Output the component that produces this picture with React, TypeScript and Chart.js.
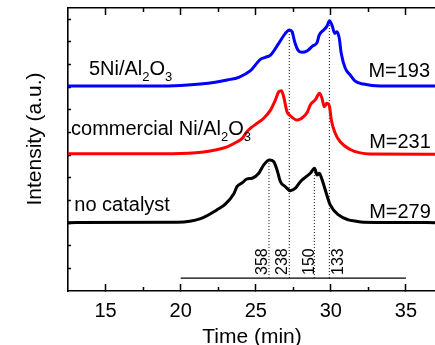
import { useEffect, useRef } from 'react';
import { Chart, registerables } from 'chart.js';

Chart.register(...registerables);

// ---- data ----
const blueTime = [12.5, 18.5, 20.0, 21.3, 22.3, 23.1, 23.87, 24.65, 25.31, 25.64, 25.98, 26.53, 26.97, 27.24, 27.42, 27.59, 27.81, 28.08, 28.41, 28.78, 29.08, 29.23, 29.52, 29.74, 29.91, 30.11, 30.25, 30.41, 30.56, 30.69, 30.96, 31.29, 31.62, 32.17, 33.28, 37];
const blueSignal = [9.05, 9.05, 9.08, 9.14, 9.22, 9.32, 9.44, 9.73, 10.23, 10.32, 10.42, 10.94, 11.38, 11.53, 11.45, 11.01, 10.64, 10.54, 10.6, 10.82, 10.97, 11.31, 11.53, 11.7, 11.94, 11.67, 11.38, 11.45, 11.16, 10.5, 9.84, 9.54, 9.27, 9.14, 9.05, 9.05];

const redTime = [12.5, 19.5, 20.5, 21.4, 22.3, 23.1, 23.76, 24.1, 24.43, 24.65, 25.09, 25.53, 25.98, 26.31, 26.53, 26.71, 26.86, 27.08, 27.3, 27.75, 28.19, 28.45, 28.63, 28.96, 29.25, 29.41, 29.56, 29.74, 29.91, 30.03, 30.29, 30.62, 31.29, 31.95, 32.6, 37];
const redSignal = [6.06, 6.06, 6.08, 6.13, 6.23, 6.37, 6.59, 6.74, 7.05, 7.19, 7.41, 7.63, 7.99, 8.44, 8.8, 8.85, 8.58, 7.92, 7.74, 7.55, 7.7, 7.92, 8.22, 8.44, 8.73, 8.51, 8.14, 8.29, 8.14, 7.55, 6.97, 6.59, 6.25, 6.1, 6.05, 6.04];

const blackTime = [12.5, 19.78, 21.33, 22.5, 22.99, 23.54, 23.76, 24.1, 24.43, 24.76, 25.2, 25.53, 25.91, 26.2, 26.42, 26.64, 26.97, 27.3, 27.64, 27.97, 28.3, 28.63, 28.92, 29.08, 29.23, 29.41, 29.63, 29.96, 30.51, 31.18, 31.62, 32.17, 37];
const blackSignal = [3.02, 3.04, 3.2, 3.62, 3.85, 4.3, 4.62, 4.78, 4.95, 4.98, 5.2, 5.57, 5.79, 5.71, 5.34, 4.83, 4.61, 4.43, 4.54, 4.83, 5.02, 5.2, 5.42, 5.12, 5.2, 4.93, 4.46, 3.8, 3.36, 3.14, 3.09, 3.04, 3.02];

const peakTimes = [25.88, 27.23, 28.9, 29.9];
const peakTops = [5.79, 11.5, 5.42, 11.92];
const peakLabels = ['358', '238', '150', '133'];

const scaleBarTimes = [20, 35];
const scaleBarLevel = 0.57;

const sampleLabels = ['5Ni/Al2O3', 'commercial Ni/Al2O3', 'no catalyst'];
const massLabels = ['M=193', 'M=231', 'M=279'];

const xTickValues = [15, 20, 25, 30, 35];
const xMinorTickValues = [17.5, 22.5, 27.5, 32.5];
const yTickValues = [1, 2, 3, 4, 5, 6, 7, 8, 9, 10, 11, 12];

// ---- layout (label anchors in data coordinates) ----
const sampleLabelAnchors = [[13.89, 9.54], [12.7, 6.89], [12.92, 3.55]];
const massLabelAnchors = [[32.5, 9.44], [32.55, 6.3], [32.55, 3.21]];
const peakLabelAnchors = [[25.73, 0.71], [27.1, 0.71], [28.88, 0.71], [30.79, 0.71]];

const FONT = '"Liberation Sans", Arial, Helvetica, sans-serif';

function drawFormula(ctx: CanvasRenderingContext2D, text: string, x: number, y: number, size: number) {
  let cx = x;
  for (let i = 0; i < text.length; i++) {
    const ch = text[i];
    const prev = i > 0 ? text[i - 1] : '';
    const isSub = /[0-9]/.test(ch) && /[A-Za-z]/.test(prev);
    if (isSub) {
      ctx.font = `${Math.round(size * 0.65)}px ${FONT}`;
      ctx.fillText(ch, cx, y + 6);
    } else {
      ctx.font = `${size}px ${FONT}`;
      ctx.fillText(ch, cx, y);
    }
    cx += ctx.measureText(ch).width;
  }
}

const decorPlugin = {
  id: 'decor',
  afterDraw(chart: any) {
    const ctx: CanvasRenderingContext2D = chart.ctx;
    const xs = chart.scales.x;
    const ys = chart.scales.y;
    const area = chart.chartArea;
    ctx.save();
    // minor ticks (top & bottom)
    ctx.strokeStyle = '#000';
    ctx.lineWidth = 1.5;
    xMinorTickValues.forEach((v) => {
      const px = Math.round(xs.getPixelForValue(v)) + 0.5;
      ctx.beginPath();
      ctx.moveTo(px, area.bottom);
      ctx.lineTo(px, area.bottom - 4);
      ctx.moveTo(px, area.top);
      ctx.lineTo(px, area.top + 4);
      ctx.stroke();
    });
    ctx.fillStyle = '#000';
    ctx.textBaseline = 'alphabetic';
    ctx.textAlign = 'left';
    sampleLabels.forEach((t, i) => {
      const [dx, dy] = sampleLabelAnchors[i];
      drawFormula(ctx, t, xs.getPixelForValue(dx), ys.getPixelForValue(dy), 20);
    });
    ctx.font = `20px ${FONT}`;
    massLabels.forEach((t, i) => {
      const [dx, dy] = massLabelAnchors[i];
      ctx.fillText(t, xs.getPixelForValue(dx), ys.getPixelForValue(dy));
    });
    ctx.font = `16px ${FONT}`;
    peakLabels.forEach((t, i) => {
      const [dx, dy] = peakLabelAnchors[i];
      ctx.save();
      ctx.translate(xs.getPixelForValue(dx), ys.getPixelForValue(dy));
      ctx.rotate(-Math.PI / 2);
      ctx.fillText(t, 0, 0);
      ctx.restore();
    });
    // y axis title
    ctx.save();
    ctx.font = `21px ${FONT}`;
    ctx.textAlign = 'center';
    ctx.translate(area.left - 27, (area.top + area.bottom) / 2 - 10.5);
    ctx.rotate(-Math.PI / 2);
    ctx.fillText('Intensity (a.u.)', 0, 0);
    ctx.restore();
    ctx.restore();
  },
};

function toPoints(xs: number[], ys: number[]) {
  return xs.map((x, i) => ({ x, y: ys[i] }));
}

export default function App() {
  const ref = useRef<HTMLCanvasElement | null>(null);
  useEffect(() => {
    document.body.style.margin = '0';
    document.body.style.overflow = 'hidden';
    const canvas = ref.current;
    if (!canvas) return;
    const curve = (data: any, color: string) => ({
      data,
      borderColor: color,
      borderWidth: 3,
      pointRadius: 0,
      cubicInterpolationMode: 'monotone',
      borderJoinStyle: 'round',
      borderCapStyle: 'round',
      fill: false,
      xAxisID: 'x',
      yAxisID: 'y',
    });
    const dotted = peakTimes.map((t, i) => ({
      data: [{ x: t, y: scaleBarLevel }, { x: t, y: peakTops[i] }],
      borderColor: '#000',
      borderWidth: 1,
      borderDash: [1, 2],
      pointRadius: 0,
      fill: false,
      xAxisID: 'x',
      yAxisID: 'y',
    }));
    const axisGrid = (len: number) => ({
      drawOnChartArea: false,
      drawTicks: true,
      tickLength: len,
      tickWidth: 1.5,
      tickColor: '#000',
    });
    const border = { display: true, color: '#000', width: 1.6 };
    const chart = new Chart(canvas, {
      type: 'line',
      data: {
        datasets: [
          curve(toPoints(blueTime, blueSignal), '#0000ff'),
          curve(toPoints(redTime, redSignal), '#ff0000'),
          curve(toPoints(blackTime, blackSignal), '#000000'),
          ...dotted,
          {
            data: scaleBarTimes.map((t) => ({ x: t, y: scaleBarLevel })),
            borderColor: '#000',
            borderWidth: 1.2,
            pointRadius: 0,
            fill: false,
            xAxisID: 'x',
            yAxisID: 'y',
          },
        ] as any,
      },
      options: {
        responsive: false,
        animation: false,
        events: [],
        layout: { padding: { top: 8, right: 9, left: 0, bottom: 0 } },
        plugins: { legend: { display: false }, tooltip: { enabled: false } },
        scales: {
          x: {
            type: 'linear',
            position: 'bottom',
            min: 12.5,
            max: 37,
            afterBuildTicks: (s: any) => {
              s.ticks = xTickValues.map((v) => ({ value: v }));
            },
            afterFit: (s: any) => {
              s.height = 54;
            },
            grid: axisGrid(-7),
            border,
            ticks: {
              color: '#000',
              font: { family: FONT, size: 20 },
              padding: 15,
              maxRotation: 0,
              autoSkip: false,
              callback: (v: any) => String(v),
            },
            title: {
              display: true,
              text: 'Time (min)',
              color: '#000',
              font: { family: FONT, size: 21, lineHeight: 1 },
              padding: { top: 0, bottom: -3 },
            },
          },
          x2: {
            type: 'linear',
            position: 'top',
            min: 12.5,
            max: 37,
            afterBuildTicks: (s: any) => {
              s.ticks = xTickValues.map((v) => ({ value: v }));
            },
            afterFit: (s: any) => {
              s.height = 0;
            },
            grid: axisGrid(-7),
            border,
            ticks: { display: false },
          },
          y: {
            type: 'linear',
            position: 'left',
            min: 0,
            max: 12.5,
            afterBuildTicks: (s: any) => {
              s.ticks = yTickValues.map((v) => ({ value: v }));
            },
            afterFit: (s: any) => {
              s.width = 68;
            },
            grid: axisGrid(-3),
            border,
            ticks: { display: false },
          },
        },
      } as any,
      plugins: [decorPlugin],
    });
    return () => chart.destroy();
  }, []);
  return (
    <div style={{ width: 445, height: 345 }}>
      <canvas ref={ref} width={445} height={345} style={{ display: 'block' }} />
    </div>
  );
}
